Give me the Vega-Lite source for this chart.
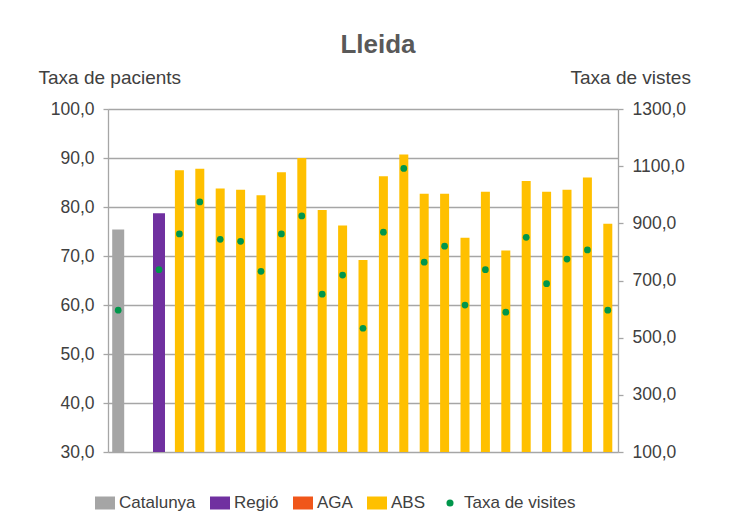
{
  "$schema": "https://vega.github.io/schema/vega-lite/v6.json",
  "autosize": {"type": "none"},
  "padding": {"left": 108, "top": 109, "right": 122, "bottom": 68},
  "width": 510,
  "height": 343,
  "background": "white",
  "config": {
    "font": "Liberation Sans",
    "view": {"stroke": null},
    "axis": {"labelFont": "Liberation Sans", "titleFont": "Liberation Sans"},
    "legend": {"labelFont": "Liberation Sans"}
  },
  "title": {
    "text": "Lleida",
    "font": "Liberation Sans",
    "fontSize": 26,
    "fontWeight": "bold",
    "color": "#595959",
    "anchor": "middle",
    "dx": 15,
    "offset": -11,
    "baseline": "alphabetic"
  },
  "data": {
    "values": [
      {"unitat": "Catalunya", "tipus": "Catalunya", "pacients": 75.4, "visites": 596},
      {"unitat": "Regió", "tipus": "Regió", "pacients": 78.7, "visites": 738},
      {"unitat": "ABS 01", "tipus": "ABS", "pacients": 87.5, "visites": 863},
      {"unitat": "ABS 02", "tipus": "ABS", "pacients": 87.8, "visites": 975},
      {"unitat": "ABS 03", "tipus": "ABS", "pacients": 83.8, "visites": 844},
      {"unitat": "ABS 04", "tipus": "ABS", "pacients": 83.5, "visites": 837},
      {"unitat": "ABS 05", "tipus": "ABS", "pacients": 82.4, "visites": 732},
      {"unitat": "ABS 06", "tipus": "ABS", "pacients": 87.1, "visites": 863},
      {"unitat": "ABS 07", "tipus": "ABS", "pacients": 90.0, "visites": 926},
      {"unitat": "ABS 08", "tipus": "ABS", "pacients": 79.4, "visites": 652},
      {"unitat": "ABS 09", "tipus": "ABS", "pacients": 76.2, "visites": 719},
      {"unitat": "ABS 10", "tipus": "ABS", "pacients": 69.2, "visites": 533},
      {"unitat": "ABS 11", "tipus": "ABS", "pacients": 86.3, "visites": 869},
      {"unitat": "ABS 12", "tipus": "ABS", "pacients": 90.7, "visites": 1092},
      {"unitat": "ABS 13", "tipus": "ABS", "pacients": 82.7, "visites": 764},
      {"unitat": "ABS 14", "tipus": "ABS", "pacients": 82.7, "visites": 820},
      {"unitat": "ABS 15", "tipus": "ABS", "pacients": 73.7, "visites": 614},
      {"unitat": "ABS 16", "tipus": "ABS", "pacients": 83.1, "visites": 738},
      {"unitat": "ABS 17", "tipus": "ABS", "pacients": 71.1, "visites": 589},
      {"unitat": "ABS 18", "tipus": "ABS", "pacients": 85.3, "visites": 851},
      {"unitat": "ABS 19", "tipus": "ABS", "pacients": 83.1, "visites": 689},
      {"unitat": "ABS 20", "tipus": "ABS", "pacients": 83.5, "visites": 775},
      {"unitat": "ABS 21", "tipus": "ABS", "pacients": 86.0, "visites": 807},
      {"unitat": "ABS 22", "tipus": "ABS", "pacients": 76.6, "visites": 596}
    ]
  },
  "encoding": {
    "x": {
      "field": "unitat",
      "type": "nominal",
      "sort": null,
      "scale": {
        "domain": ["Catalunya", "AGA", "Regió", "ABS 01", "ABS 02", "ABS 03", "ABS 04", "ABS 05", "ABS 06", "ABS 07", "ABS 08", "ABS 09", "ABS 10", "ABS 11", "ABS 12", "ABS 13", "ABS 14", "ABS 15", "ABS 16", "ABS 17", "ABS 18", "ABS 19", "ABS 20", "ABS 21", "ABS 22"],
        "paddingInner": 0,
        "paddingOuter": 0
      },
      "axis": null
    }
  },
  "layer": [
    {
      "mark": {"type": "bar"},
      "encoding": {
        "y": {
          "field": "pacients",
          "type": "quantitative",
          "scale": {"domain": [30, 100], "zero": false, "nice": false},
          "axis": {
            "values": [30, 40, 50, 60, 70, 80, 90, 100],
            "labelExpr": "replace(format(datum.value, '.1f'), '.', ',')",
            "labelFontSize": 17.5,
            "labelColor": "#404040",
            "labelPadding": 9,
            "grid": true,
            "gridColor": "#a6a6a6",
            "gridWidth": 1.3,
            "domainColor": "#a6a6a6",
            "domainWidth": 1.3,
            "tickColor": "#a6a6a6",
            "tickWidth": 1.3,
            "tickSize": 5,
            "title": "Taxa de pacients",
            "titleAngle": 0,
            "titleAlign": "left",
            "titleBaseline": "alphabetic",
            "titleX": -70,
            "titleY": -26,
            "titleFontSize": 19,
            "titleFontWeight": "normal",
            "titleColor": "#404040"
          }
        },
        "y2": {"datum": 30},
        "color": {
          "field": "tipus",
          "type": "nominal",
          "scale": {
            "domain": ["Catalunya", "Regió", "AGA", "ABS", "Taxa de visites"],
            "range": ["#a5a5a5", "#7030a0", "#f0561a", "#ffc000", "#00964b"]
          },
          "legend": {
            "title": null,
            "orient": "none",
            "direction": "horizontal",
            "legendX": -13,
            "legendY": 384,
            "labelFontSize": 17,
            "labelColor": "#404040",
            "symbolSize": 400,
            "columnPadding": 14,
            "labelOffset": 4,
            "symbolStrokeWidth": 0,
            "encode": {
              "symbols": {
                "update": {
                  "shape": {"signal": "datum.label === 'Taxa de visites' ? 'circle' : 'M-1,-0.65H1V0.65H-1Z'"},
                  "size": {"signal": "datum.label === 'Taxa de visites' ? 50 : 400"},
                  "strokeWidth": {"value": 0}
                }
              }
            }
          }
        },
        "size": {"condition": {"test": "datum.tipus === 'ABS'", "value": 9}, "value": 12}
      }
    },
    {
      "mark": {"type": "point", "filled": true, "opacity": 1, "size": 45},
      "encoding": {
        "y": {
          "field": "visites",
          "type": "quantitative",
          "scale": {"domain": [100, 1300], "zero": false, "nice": false},
          "axis": {
            "orient": "right",
            "values": [100, 300, 500, 700, 900, 1100, 1300],
            "labelExpr": "replace(format(datum.value, '.1f'), '.', ',')",
            "labelFontSize": 17.5,
            "labelColor": "#404040",
            "labelPadding": 9,
            "grid": false,
            "domainColor": "#a6a6a6",
            "domainWidth": 1.3,
            "tickColor": "#a6a6a6",
            "tickWidth": 1.3,
            "tickSize": 5,
            "title": "Taxa de vistes",
            "titleAngle": 0,
            "titleAlign": "left",
            "titleBaseline": "alphabetic",
            "titleX": -48,
            "titleY": -26,
            "titleFontSize": 19,
            "titleFontWeight": "normal",
            "titleColor": "#404040"
          }
        },
        "color": {"datum": "Taxa de visites"}
      }
    }
  ],
  "resolve": {"scale": {"y": "independent"}}
}
